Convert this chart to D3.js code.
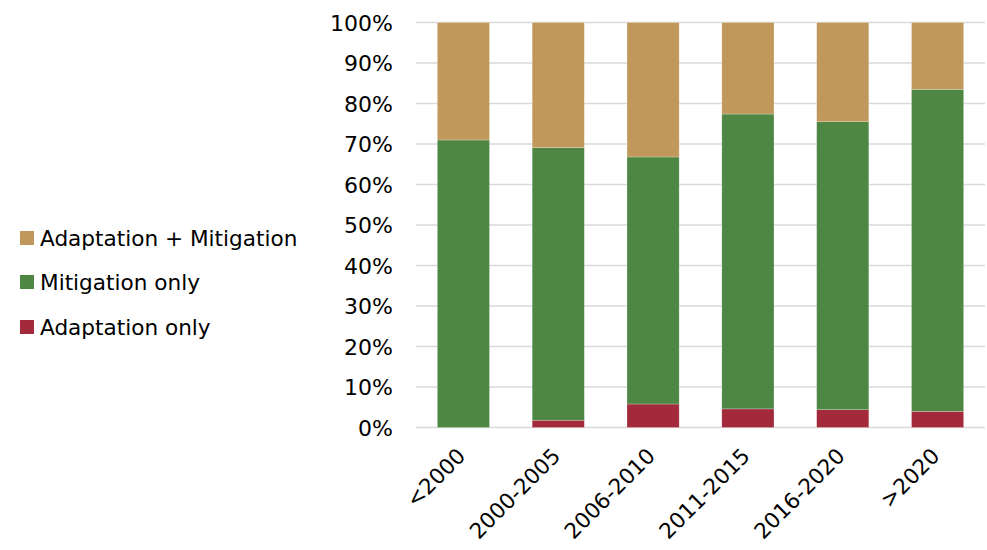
<!DOCTYPE html>
<html lang="en">
<head>
<meta charset="utf-8">
<title>Adaptation / Mitigation share</title>
<script src="https://d3js.org/d3.v7.min.js"></script>
<style>
    body { margin: 0; background: #fff; }
    svg text { font-family: "DejaVu Sans", sans-serif; fill: #000; }
</style>
</head>
<body>
<div id="chart"></div>
<script>
    // data (% of each period)
    var periods = ["<2000", "2000-2005", "2006-2010", "2011-2015", "2016-2020", ">2020"];
    var adaptationOnly = [0, 1.8, 5.8, 4.6, 4.4, 4.0];
    var mitigationOnly = [71.0, 67.3, 61.0, 72.8, 71.1, 79.5];
    var adaptMitigation = [29.0, 30.9, 33.2, 22.6, 24.5, 16.5];
    var yTicks = [0, 10, 20, 30, 40, 50, 60, 70, 80, 90, 100];

    var seriesNames = ["Adaptation only", "Mitigation only", "Adaptation + Mitigation"];
    var colors = ["#A22A3A", "#4E8743", "#C1985B"];

    var width = 987, height = 550;
    var margin = { top: 22.5, right: 2, bottom: 122, left: 416 };

    var svg = d3.select("#chart")
        .append("svg")
        .attr("width", width)
        .attr("height", height);

    var rows = periods.map(function (p, i) {
        return { period: p, a: adaptationOnly[i], m: mitigationOnly[i], am: adaptMitigation[i] };
    });

    var x = d3.scaleBand()
        .domain(periods)
        .range([margin.left, width - margin.right])
        .paddingInner(0.45)
        .paddingOuter(0.225);

    var y = d3.scaleLinear()
        .domain([0, 100])
        .range([height - margin.bottom - 0.5, margin.top]);

    // gridlines
    svg.append("g")
        .selectAll("line")
        .data(yTicks)
        .enter()
        .append("line")
        .attr("x1", margin.left)
        .attr("x2", width - margin.right)
        .attr("y1", function (d) { return y(d); })
        .attr("y2", function (d) { return y(d); })
        .attr("stroke", "#d9d9d9")
        .attr("stroke-width", 1.5);

    // y axis labels
    var yAxis = svg.append("g")
        .attr("transform", "translate(" + (margin.left - 23) + ",0)")
        .call(d3.axisLeft(y).tickValues(yTicks).tickSize(0).tickPadding(0)
            .tickFormat(function (d) { return d + "%"; }));
    yAxis.select(".domain").remove();
    yAxis.selectAll("text")
        .style("font-size", "22px")
        .attr("dy", "0.36em");

    // stacked bars
    var stack = d3.stack().keys(["a", "m", "am"]);
    var layers = stack(rows);

    svg.append("g")
        .selectAll("g")
        .data(layers)
        .enter()
        .append("g")
        .attr("fill", function (d, i) { return colors[i]; })
        .selectAll("rect")
        .data(function (d) { return d; })
        .enter()
        .append("rect")
        .attr("x", function (d) { return x(d.data.period); })
        .attr("width", x.bandwidth())
        .attr("y", function (d) { return y(d[1]); })
        .attr("height", function (d) { return Math.max(0, y(d[0]) - y(d[1])); })
        .attr("stroke", "#ffffff")
        .attr("stroke-opacity", 0.4)
        .attr("stroke-width", 0.6);

    // x labels, rotated
    var xAxis = svg.append("g")
        .attr("transform", "translate(0," + (height - margin.bottom) + ")")
        .call(d3.axisBottom(x).tickSize(0).tickPadding(0));
    xAxis.select(".domain").remove();
    xAxis.selectAll("text")
        .style("font-size", "21.5px")
        .style("text-anchor", "end")
        .attr("dy", "0.35em")
        .attr("y", 0)
        .attr("transform", "translate(-2,24) rotate(-45)");

    // legend (top entry = top of stack)
    var legendY = [238, 282, 327];
    var legend = svg.append("g")
        .selectAll("g")
        .data([2, 1, 0])
        .enter()
        .append("g")
        .attr("transform", function (d, i) { return "translate(20," + legendY[i] + ")"; });
    legend.append("rect")
        .attr("x", 0)
        .attr("y", -7)
        .attr("width", 14)
        .attr("height", 14)
        .attr("fill", function (d) { return colors[d]; });
    legend.append("text")
        .attr("x", 20)
        .attr("y", 0)
        .attr("dy", "0.36em")
        .style("font-size", "21.6px")
        .text(function (d) { return seriesNames[d]; });
</script>
</body>
</html>
